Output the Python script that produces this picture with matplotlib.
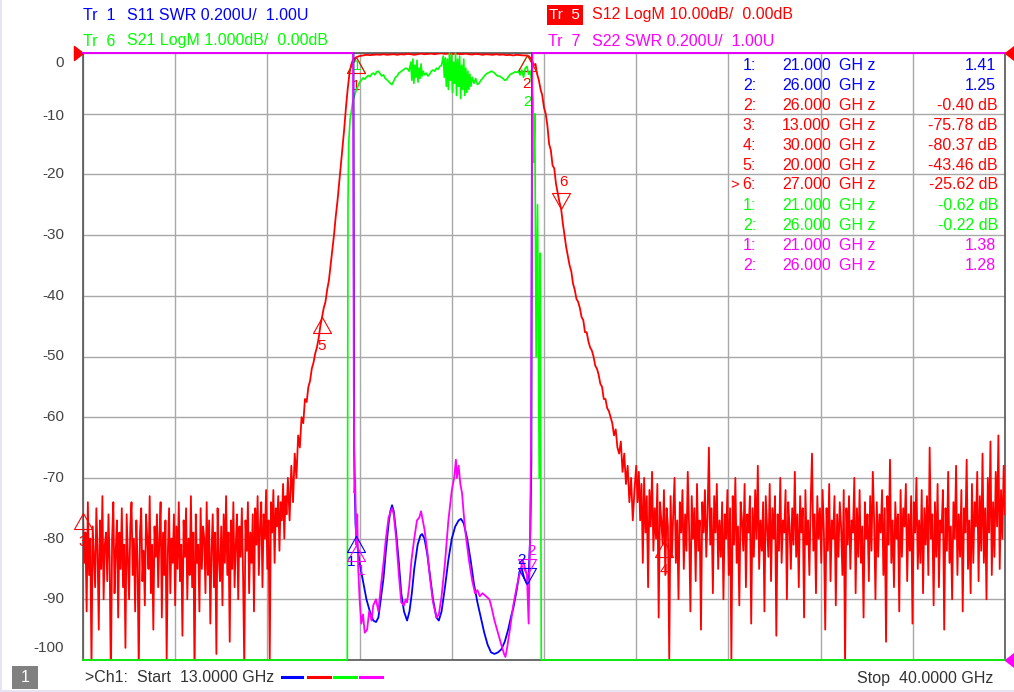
import numpy as np
import matplotlib
matplotlib.use("Agg")
import matplotlib.pyplot as plt
from matplotlib.path import Path
from matplotlib.transforms import ScaledTranslation
from matplotlib.patches import Rectangle
from matplotlib.lines import Line2D

plt.rcParams['font.family'] = ['Liberation Sans', 'DejaVu Sans']

# ---------------- data ----------------
F_START, F_STOP = 13.0, 40.0

# S12 (LogM, 10 dB/div) - noise floor below passband (13 .. 18.93 GHz)
s12_noise_left = [
    -76, -84, -79, -92, -74, -86, -80, -101, -78, -83, -88, -75, -82, -95, -77, -85, -73, -90, -81, -79,
    -87, -76, -84, -104, -80, -74, -89, -82, -77, -93, -79, -85, -75, -88, -81, -98, -76, -83, -90, -78,
    -74, -86, -80, -92, -77, -84, -102, -79, -75, -87, -82, -91, -76, -80, -85, -73, -89, -81, -95, -78,
    -83, -76, -88, -80, -74, -93, -79, -86, -77, -100, -82, -75, -89, -80, -84, -76, -91, -78, -85, -74,
    -87, -81, -96, -77, -83, -75, -90, -80, -86, -73, -88, -79, -103, -76, -84, -81, -92, -75, -85, -78,
    -80, -89, -74, -86, -77, -94, -82, -76, -88, -79, -99, -75, -83, -87, -78, -91, -76, -84, -73, -86,
    -79, -97, -77, -85, -74, -88, -81, -76, -90, -78, -83, -75, -86, -101, -77, -82, -74, -89, -79, -84,
    -76, -92, -75, -81, -73, -86, -78, -74, -88, -76, -80, -72, -85, -77, -100, -74, -79, -72, -84, -75,
    -78, -73, -82, -74, -77, -71, -80, -73,
]
# S12 rising skirt
s12_rise_f = [18.96, 19.0, 19.05, 19.1, 19.15, 19.2, 19.25, 19.3, 19.35, 19.4, 19.45, 19.5, 19.55,
              19.6, 19.65, 19.7, 19.75, 19.8, 19.85, 19.9, 19.95, 20.0, 20.05, 20.1, 20.15, 20.2,
              20.25, 20.3, 20.35, 20.4, 20.45, 20.5, 20.55, 20.6, 20.65, 20.7, 20.75, 20.8, 20.85,
              20.9, 20.95, 21.0]
s12_rise_v = [-76, -70, -77, -68, -74, -66, -70, -63, -65, -60, -61, -57, -57.5,
              -55, -54, -52, -51, -49.5, -48.5, -47, -45, -43.5, -42, -41, -39, -37.5,
              -35, -32.5, -30, -27, -24.5, -21.5, -18.5, -15.5, -12.5, -9, -6, -3.5, -2,
              -1.2, -0.9, -0.7]
# S12 passband (21.1 .. 26.0 GHz)
s12_pass = [-0.5, -0.4, -0.3, -0.35, -0.3, -0.25, -0.3, -0.2, -0.3, -0.25, -0.2, -0.3, -0.2, -0.25,
            -0.15, -0.2, -0.3, -0.2, -0.1, -0.2, -0.15, -0.1, -0.2, -0.1, -0.05, -0.15, -0.1, -0.2,
            -0.1, -0.15, -0.2, -0.1, -0.2, -0.25, -0.15, -0.2, -0.3, -0.2, -0.25, -0.3, -0.2, -0.3,
            -0.25, -0.35, -0.3, -0.4, -0.3, -0.35, -0.4, -0.4]
# S12 falling skirt
s12_fall_f = [26.05, 26.1, 26.15, 26.2, 26.25, 26.3, 26.35, 26.4, 26.45, 26.5, 26.55, 26.6, 26.65,
              26.7, 26.75, 26.8, 26.85, 26.9, 26.95, 27.0, 27.05, 27.1, 27.15, 27.2, 27.25, 27.3,
              27.35, 27.4, 27.45, 27.5, 27.55, 27.6, 27.65, 27.7, 27.75, 27.8, 27.85, 27.9, 27.95,
              28.0, 28.05, 28.1, 28.15, 28.2, 28.25, 28.3, 28.35, 28.4, 28.45, 28.5, 28.55, 28.6,
              28.65, 28.7, 28.75, 28.8, 28.85, 28.9, 28.95, 29.0, 29.05, 29.1, 29.15]
s12_fall_v = [-0.5, -0.8, -1.2, -2, -1.8, -3.5, -4.5, -6, -7, -9, -10, -12, -15,
              -16, -18.5, -19, -21.5, -23, -24.5, -25.6, -28, -30, -32, -33.5, -35, -36,
              -38, -39, -40.5, -41, -42, -43.5, -44, -46, -46, -47.5, -48.5, -49, -50,
              -51.5, -52, -53, -54.5, -55, -57, -57, -58.5, -59, -60, -61, -63, -62,
              -65, -66, -64, -69, -66, -71, -68, -74, -70, -77, -72]
# S12 noise floor above passband (29.2 .. 40 GHz)
s12_noise_right = [
    -68, -74, -69, -77, -71, -84, -70, -79, -73, -88, -72, -78, -69, -82, -75, -80, -71, -93, -74, -77,
    -81, -72, -86, -75, -78, -100, -73, -83, -76, -70, -84, -77, -90, -74, -79, -72, -85, -76, -82, -69,
    -78, -92, -73, -80, -75, -87, -71, -82, -77, -95, -74, -79, -72, -83, -76, -65, -81, -75, -89, -73,
    -79, -71, -85, -77, -83, -74, -90, -76, -80, -72, -86, -75, -100, -73, -81, -70, -84, -78, -91, -74,
    -77, -82, -71, -88, -76, -79, -73, -94, -75, -83, -72, -80, -68, -85, -77, -82, -74, -92, -73, -78,
    -83, -71, -87, -75, -80, -73, -96, -76, -82, -70, -84, -77, -79, -72, -90, -74, -78, -85, -75, -81,
    -69, -83, -76, -88, -73, -79, -75, -93, -72, -81, -77, -86, -74, -66, -82, -76, -89, -73, -80, -75,
    -84, -72, -79, -95, -75, -82, -71, -87, -77, -80, -73, -91, -76, -83, -74, -78, -86, -72, -101, -75,
    -81, -73, -85, -77, -79, -70, -89, -75, -83, -72, -84, -78, -93, -74, -80, -76, -87, -73, -82, -69,
    -77, -90, -74, -83, -76, -79, -72, -86, -75, -97, -73, -81, -67, -84, -77, -88, -74, -80, -76, -92,
    -72, -83, -75, -78, -71, -87, -76, -82, -73, -94, -74, -79, -70, -85, -77, -84, -72, -89, -75, -81,
    -73, -86, -65, -80, -76, -91, -74, -83, -71, -88, -77, -79, -72, -95, -75, -82, -69, -84, -78, -90,
    -74, -80, -68, -86, -76, -83, -72, -92, -75, -79, -67, -85, -77, -89, -71, -84, -74, -78, -69, -87,
    -73, -82, -66, -84, -75, -90, -70, -79, -64, -86, -74, -83, -69, -78, -63, -85, -72, -80, -68, -76,
]

# S21 (LogM, 1 dB/div), display-clamped at -10 dB outside the passband
s21_f = [13.0, 20.72, 20.74, 20.76, 20.78, 20.82, 20.86, 20.90, 20.95, 21.0, 21.05, 21.1, 21.15, 21.2,
         21.25, 21.3, 21.35, 21.4, 21.45, 21.5, 21.55, 21.6, 21.65, 21.7, 21.75, 21.8, 21.85, 21.9,
         21.95, 22.0, 22.05, 22.1, 22.15, 22.2, 22.25, 22.3, 22.35, 22.4, 22.45, 22.5, 22.55,
         22.6, 22.63, 22.66, 22.69, 22.72, 22.75, 22.78, 22.81, 22.84, 22.87, 22.9, 22.93, 22.96,
         23.0, 23.05, 23.1, 23.15, 23.2, 23.25, 23.3, 23.35, 23.4, 23.45, 23.5,
         23.55, 23.58, 23.61, 23.64, 23.67, 23.7, 23.73, 23.76, 23.79, 23.82, 23.85, 23.88, 23.91,
         23.94, 23.97, 24.0, 24.03, 24.06, 24.09, 24.12, 24.15, 24.18, 24.21, 24.24, 24.27, 24.3,
         24.33, 24.36, 24.4, 24.45, 24.5, 24.55, 24.6, 24.65, 24.7, 24.75, 24.8, 24.85, 24.9, 24.95,
         25.0, 25.05, 25.1, 25.15, 25.2, 25.25, 25.3, 25.35, 25.4, 25.45, 25.5, 25.55, 25.6, 25.65,
         25.7, 25.75, 25.8, 25.85, 25.9, 25.95, 26.0, 26.05, 26.1, 26.15, 26.18, 26.2, 26.23, 26.27,
         26.31, 26.36, 26.39, 26.42, 40.0]
s21_v = [-10, -10, -10, -2.5, -1.5, -1.1, -0.95, -0.8, -0.7, -0.62, -0.55, -0.48, -0.45, -0.41,
         -0.43, -0.40, -0.37, -0.39, -0.35, -0.33, -0.36, -0.31, -0.30, -0.34, -0.38, -0.36, -0.42, -0.44,
         -0.47, -0.50, -0.52, -0.46, -0.40, -0.38, -0.33, -0.31, -0.29, -0.27, -0.25, -0.26, -0.30,
         -0.15, -0.45, -0.1, -0.5, -0.2, -0.4, -0.12, -0.48, -0.25, -0.42, -0.18, -0.38, -0.3,
         -0.36, -0.33, -0.38, -0.35, -0.3, -0.28, -0.3, -0.25, -0.27, -0.22, -0.2,
         -0.05, -0.4, -0.08, -0.55, -0.1, -0.6, 0.0, -0.45, -0.02, -0.65, -0.15, -0.5, 0.0,
         -0.7, -0.1, -0.55, -0.05, -0.75, -0.2, -0.6, -0.1, -0.7, -0.25, -0.65, -0.3, -0.6,
         -0.35, -0.55, -0.4, -0.5, -0.42, -0.52, -0.5, -0.45, -0.42, -0.38, -0.35, -0.33, -0.32, -0.30,
         -0.31, -0.33, -0.36, -0.38, -0.38, -0.40, -0.42, -0.45, -0.44, -0.40, -0.36, -0.34, -0.33, -0.31,
         -0.32, -0.30, -0.36, -0.28, -0.40, -0.25, -0.22, -0.35, -0.3, -0.55, -0.8, -1.8, -1.0, -5,
         -2.5, -7, -3.3, -10, -10]

# S11 (SWR, 0.2 U/div, 1.00 U at bottom), display-clamped at 3.0 outside the passband
s11_f = [13.0, 20.92, 20.94, 20.98, 21.0, 21.03, 21.1, 21.2, 21.3, 21.4, 21.5, 21.58, 21.65, 21.72,
         21.8, 21.87, 21.95, 22.0, 22.05, 22.1, 22.17, 22.25, 22.32, 22.4, 22.49, 22.56, 22.63,
         22.7, 22.8, 22.88, 22.93, 23.0, 23.08, 23.16, 23.25, 23.35, 23.42, 23.5, 23.6, 23.7, 23.8,
         23.9, 24.0, 24.07, 24.15, 24.25, 24.35, 24.45, 24.55, 24.65, 24.75, 24.85, 24.95, 25.05,
         25.15, 25.25, 25.35, 25.45, 25.55, 25.6, 25.7, 25.78, 25.85, 25.92, 26.0, 26.05, 26.1,
         26.13, 26.15, 40.0]
s11_v = [3.0, 3.0, 1.7, 1.45, 1.41, 1.38, 1.32, 1.26, 1.20, 1.16, 1.13, 1.125, 1.14, 1.2,
         1.27, 1.36, 1.45, 1.49, 1.51, 1.49, 1.42, 1.32, 1.22, 1.16, 1.13, 1.16, 1.22,
         1.3, 1.38, 1.41, 1.415, 1.40, 1.35, 1.28, 1.2, 1.14, 1.13, 1.16, 1.24, 1.33, 1.40,
         1.44, 1.46, 1.465, 1.45, 1.40, 1.33, 1.25, 1.19, 1.14, 1.09, 1.05, 1.025, 1.02,
         1.025, 1.035, 1.06, 1.10, 1.15, 1.17, 1.23, 1.29, 1.30, 1.27, 1.25, 1.28, 1.42,
         1.65, 3.0, 3.0]

# S22 (SWR, 0.2 U/div, 1.00 U at bottom), display-clamped at 3.0 outside the passband
s22_f = [13.0, 20.91, 20.93, 20.95, 20.97, 21.0, 21.03, 21.06, 21.1, 21.15, 21.2, 21.25, 21.32,
         21.38, 21.45, 21.5, 21.58, 21.65, 21.72, 21.8, 21.87, 21.95, 22.05, 22.1, 22.17, 22.25,
         22.32, 22.4, 22.45, 22.49, 22.55, 22.62, 22.7, 22.78, 22.85, 22.9, 22.95, 23.0, 23.08,
         23.16, 23.25, 23.35, 23.42, 23.5, 23.6, 23.7, 23.8, 23.87, 23.92, 23.95, 24.0, 24.05,
         24.1, 24.15, 24.2, 24.3, 24.4, 24.48, 24.55, 24.62, 24.7, 24.8, 24.9, 24.95, 25.05,
         25.15, 25.25, 25.33, 25.37, 25.42, 25.5, 25.6, 25.7, 25.8, 25.88, 25.95, 26.0, 26.05,
         26.09, 26.12, 26.16, 40.0]
s22_v = [3.0, 3.0, 1.9, 1.55, 1.6, 1.38, 1.48, 1.3, 1.2, 1.12, 1.15, 1.09, 1.10,
         1.16, 1.13, 1.18, 1.2, 1.16, 1.24, 1.32, 1.40, 1.47, 1.50, 1.48, 1.40, 1.28,
         1.19, 1.18, 1.2, 1.19, 1.24, 1.33, 1.40, 1.46, 1.47, 1.49, 1.46, 1.43, 1.36,
         1.27, 1.19, 1.14, 1.15, 1.21, 1.32, 1.46, 1.56, 1.60, 1.66, 1.60, 1.64, 1.58,
         1.55, 1.48, 1.42, 1.33, 1.26, 1.22, 1.23, 1.21, 1.22, 1.21, 1.20, 1.18, 1.13,
         1.09, 1.05, 1.02, 1.01, 1.04, 1.10, 1.18, 1.24, 1.29, 1.33, 1.30, 1.28, 1.12,
         1.4, 1.7, 3.0, 3.0]

# marker readouts (table)
tbl_num = ["1:", "2:", "2:", "3:", "4:", "5:", "6:", "1:", "2:", "1:", "2:"]
tbl_freq = ["21.000", "26.000", "26.000", "13.000", "30.000", "20.000", "27.000",
            "21.000", "26.000", "21.000", "26.000"]
tbl_val = ["1.41", "1.25", "-0.40 dB", "-75.78 dB", "-80.37 dB", "-43.46 dB", "-25.62 dB",
           "-0.62 dB", "-0.22 dB", "1.38", "1.28"]
tbl_trace = ["s11", "s11", "s12", "s12", "s12", "s12", "s12", "s21", "s21", "s22", "s22"]

# markers drawn on the S12 scale
s12_mk_f = [21.0, 26.0, 13.0, 30.0, 20.0, 27.0]
s12_mk_v = [-0.7, -0.40, -75.78, -80.37, -43.46, -25.62]
s12_mk_lbl = ["1", "2", "3", "4", "5", "6"]
s11_mk_f, s11_mk_v = [21.0, 26.0], [1.41, 1.25]
s22_mk_f, s22_mk_v = [21.0, 26.0], [1.38, 1.28]

yticks_db = list(range(0, -101, -10))

# ---------------- styling ----------------
C = {"s11": "#0000ff", "s12": "#ff0000", "s21": "#00ff00", "s22": "#ff00ff"}
GRID = "#a8a8a8"
SPINE = "#555555"
TXT = "#444444"

W, H = 1014, 692
fig = plt.figure(figsize=(W / 100, H / 100), dpi=100)
fig.patch.set_facecolor("white")

L, R, T, B = 83, 1005, 53, 660
rect = [L / W, 1 - B / H, (R - L) / W, (B - T) / H]

def px(x, y):
    return x / W, 1 - y / H

ax = fig.add_axes(rect)
ax_g = fig.add_axes(rect, sharex=ax)
ax_s = fig.add_axes(rect, sharex=ax)
for a in (ax_g, ax_s):
    a.patch.set_visible(False)
    a.set_axis_off()

ax.set_xlim(F_START, F_STOP)
ax.set_ylim(-100, 0)
ax_g.set_ylim(-10, 0)
ax_s.set_ylim(1.0, 3.0)

ax.set_xticks(np.linspace(F_START, F_STOP, 11))
ax.set_yticks(yticks_db)
ax.set_xticklabels([])
ax.set_yticklabels([])
ax.tick_params(length=0)
ax.grid(True, color=GRID, lw=1.0)
ax.set_axisbelow(True)
for s in ax.spines.values():
    s.set_color(SPINE)
    s.set_linewidth(1.2)

# y tick labels (VNA nudges the end labels inward)
ytr = ax.get_yaxis_transform()
for v in yticks_db:
    off = 10 if v == 0 else (-12 if v == -100 else (2 if v == -10 else 0))
    ax.text(0, v, str(v), transform=ytr + ScaledTranslation(-19 / 100, -off / 100, fig.dpi_scale_trans),
            ha="right", va="center", fontsize=11, color=TXT)

# ---------------- traces ----------------
f_nl = np.linspace(F_START, 18.93, len(s12_noise_left))
f_pb = np.linspace(21.1, 26.0, len(s12_pass))
f_nr = np.linspace(29.2, F_STOP, len(s12_noise_right))
s12_f = np.concatenate([f_nl, s12_rise_f, f_pb, s12_fall_f, f_nr])
s12_v = np.concatenate([s12_noise_left, s12_rise_v, s12_pass, s12_fall_v, s12_noise_right])
ax.plot(s12_f, s12_v, color=C["s12"], lw=1.3, zorder=3)

ax_g.plot(s21_f, s21_v, color=C["s21"], lw=1.2, clip_on=False, zorder=3)
ax_s.plot(s11_f, s11_v, color=C["s11"], lw=1.3, clip_on=False, zorder=3)
ax_s.plot(s22_f, s22_v, color=C["s22"], lw=1.3, clip_on=False, zorder=4)

# ---------------- markers ----------------
TRI_UP = Path([(0, 0), (-9, -16), (9, -16), (0, 0)],
              [Path.MOVETO, Path.LINETO, Path.LINETO, Path.CLOSEPOLY])
TRI_DN = Path([(0, 0), (-9, 16), (9, 16), (0, 0)],
              [Path.MOVETO, Path.LINETO, Path.LINETO, Path.CLOSEPOLY])
MS = 23.04

def marker(a, f, v, color, down=False, z=6):
    a.plot([f], [v], ls="none", marker=TRI_DN if down else TRI_UP, ms=MS, mfc="none",
           mec=color, mew=0.8, clip_on=False, zorder=z)

def mlabel(a, f, v, s, color, dx, dy, z=7):
    a.annotate(s, xy=(f, v), xytext=(dx, dy), textcoords="offset pixels", ha="center",
               va="center", fontsize=11, color=color, zorder=z, annotation_clip=False)

for f, v, lb in zip(s12_mk_f, s12_mk_v, s12_mk_lbl):
    down = lb == "6"
    marker(ax, f, v, C["s12"], down=down)
    if down:
        mlabel(ax, f, v, lb, C["s12"], 2, 27)
    else:
        mlabel(ax, f, v, lb, C["s12"], 0, -29)
# S21 markers sit with the S12 ones at the top
for f, v, lb, dy in [(21.0, -0.7, "1", -9), (26.0, -0.40, "2", -47)]:
    marker(ax, f, v, C["s21"], z=5)
    mlabel(ax, f, v, lb, C["s21"], 1, dy)

for (ff, vv, col, dx) in [(s11_mk_f, s11_mk_v, C["s11"], -5), (s22_mk_f, s22_mk_v, C["s22"], 5)]:
    marker(ax_s, ff[0], vv[0], col)
    mlabel(ax_s, ff[0], vv[0], "1", col, dx, -26)
    marker(ax_s, ff[1], vv[1], col, down=True)
    mlabel(ax_s, ff[1], vv[1], "2", col, dx, 24)

# reference-level arrows
ARR_R = Path([(0, 0), (-9, 7), (-9, -7), (0, 0)], [Path.MOVETO, Path.LINETO, Path.LINETO, Path.CLOSEPOLY])
ARR_L = Path([(0, 0), (9, 7), (9, -7), (0, 0)], [Path.MOVETO, Path.LINETO, Path.LINETO, Path.CLOSEPOLY])
ax.plot([F_START], [0], ls="none", marker=ARR_R, ms=13, mfc=C["s12"], mec=C["s12"], clip_on=False, zorder=8)
ax.plot([F_STOP], [0], ls="none", marker=ARR_L, ms=13, mfc=C["s12"], mec=C["s12"], clip_on=False, zorder=8)
ax_s.plot([F_STOP], [1.0], ls="none", marker=ARR_L, ms=13, mfc=C["s22"], mec=C["s22"], clip_on=False, zorder=8)

# ---------------- header ----------------
FS = 11.5
fig.text(*px(83, 15), "Tr  1", color=C["s11"], fontsize=FS, va="center")
fig.text(*px(127, 15), "S11 SWR 0.200U/  1.00U", color=C["s11"], fontsize=FS, va="center")
fig.text(*px(83, 41), "Tr  6", color=C["s21"], fontsize=FS, va="center")
fig.text(*px(127, 41), "S21 LogM 1.000dB/  0.00dB", color=C["s21"], fontsize=FS, va="center")
fig.patches.append(Rectangle(px(547, 25), 36 / W, 20 / H, transform=fig.transFigure,
                             facecolor=C["s12"], edgecolor="none"))
fig.text(*px(549, 15), "Tr  5", color="white", fontsize=FS - 0.5, va="center")
fig.text(*px(592, 15), "S12 LogM 10.00dB/  0.00dB", color=C["s12"], fontsize=FS, va="center")
fig.text(*px(548, 41), "Tr  7", color=C["s22"], fontsize=FS, va="center")
fig.text(*px(592, 41), "S22 SWR 0.200U/  1.00U", color=C["s22"], fontsize=FS, va="center")

# ---------------- marker table ----------------
for i, (n, fr, val, tr) in enumerate(zip(tbl_num, tbl_freq, tbl_val, tbl_trace)):
    y = 65 + 20 * i
    col = C[tr]
    if n == "6:":
        fig.text(*px(730, y), ">", color=col, fontsize=FS - 1, va="center")
    fig.text(*px(756, y), n, color=col, fontsize=FS, va="center", ha="right")
    fig.text(*px(782, y), fr, color=col, fontsize=FS, va="center")
    fig.text(*px(839, y), "GH z", color=col, fontsize=FS, va="center")
    xr = 998 if "dB" in val else 996
    fig.text(*px(xr, y), val, color=col, fontsize=FS, va="center", ha="right")

# ---------------- status bar ----------------
fig.patches.append(Rectangle(px(12, 689), 26 / W, 23 / H, transform=fig.transFigure,
                             facecolor="#808080", edgecolor="none"))
fig.text(*px(25, 677), "1", color="white", fontsize=FS, va="center", ha="center")
fig.text(*px(85, 678), ">Ch1:  Start  13.0000 GHz", color="#333333", fontsize=FS, va="center")
for (x0, x1), tr in zip([(282, 302), (308, 330), (334, 356), (360, 382)], ["s11", "s12", "s21", "s22"]):
    fig.lines.append(Line2D([x0 / W, x1 / W], [1 - 677 / H] * 2, transform=fig.transFigure,
                            color=C[tr], lw=2.2))
fig.text(*px(993, 678), "Stop  40.0000 GHz", color="#333333", fontsize=FS, va="center", ha="right")

# thin bluish screen frame at left and bottom
fig.patches.append(Rectangle((0, 0), 2 / W, 1, transform=fig.transFigure, facecolor="#e4e4f4", edgecolor="none"))
fig.patches.append(Rectangle((0, 0), 1, 2 / H, transform=fig.transFigure, facecolor="#e4e4f4", edgecolor="none"))

fig.savefig("out.png", dpi=100)
